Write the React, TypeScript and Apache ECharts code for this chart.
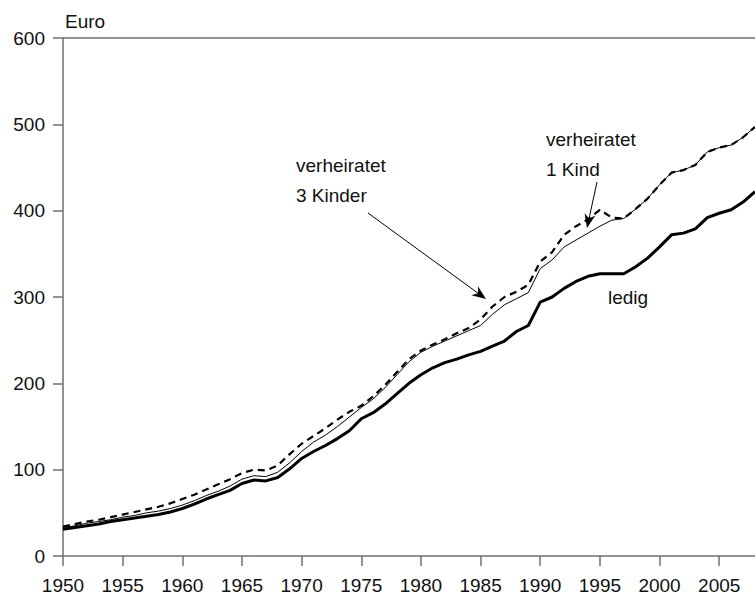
import React, { useEffect, useRef } from "react";
import * as echarts from "echarts";

const years: number[] = [];
for (let y = 1950; y <= 2008; y++) years.push(y);

const ledig = [
  31, 33, 35, 37, 40, 42, 44, 46, 48, 51,
  55, 60, 66, 71, 76, 84, 88, 87, 91, 101,
  113, 121, 128, 136, 145, 159, 166, 176, 188, 200,
  210, 218, 224, 228, 233, 237, 243, 249, 260, 267,
  294, 300, 310, 318, 324, 327, 327, 327, 335, 345,
  358, 372, 374, 379, 392, 397, 401, 410, 422,
];

const verheiratet1Kind = [
  33, 35, 38, 40, 42, 45, 47, 50, 52, 55,
  59, 64, 70, 75, 81, 89, 93, 92, 97, 108,
  121, 132, 140, 150, 161, 172, 182, 195, 210, 225,
  236, 243, 249, 255, 261, 267, 280, 291, 298, 305,
  333, 343, 358, 366, 374, 382, 389, 391, 402, 414,
  430, 444, 447, 453, 468, 473, 476, 485, 497,
];

const verheiratet3Kinder = [
  34, 37, 40, 42, 45, 48, 51, 54, 57, 61,
  66, 71, 77, 83, 89, 96, 100, 99, 105, 118,
  130, 139, 148, 158, 167, 174, 185, 198, 213, 228,
  238, 245, 251, 258, 264, 274, 289, 300, 306, 314,
  341, 352, 372, 382, 390, 401, 392, 391, 402, 414,
  430, 444, 447, 453, 468, 473, 476, 485, 497,
];

const yTicks = [0, 100, 200, 300, 400, 500, 600];

const FONT = "'Liberation Sans', Arial, sans-serif";
const AXIS_COLOR = "#6f6f6f";

function arrow(sx: number, sy: number, tx: number, ty: number) {
  const dx = tx - sx;
  const dy = ty - sy;
  const len = Math.sqrt(dx * dx + dy * dy);
  const ux = dx / len;
  const uy = dy / len;
  const nx = -uy;
  const ny = ux;
  const L = 14;
  const W = 5.5;
  return [
    {
      type: "line",
      shape: { x1: sx, y1: sy, x2: tx - ux * 8, y2: ty - uy * 8 },
      style: { stroke: "#000", lineWidth: 1 },
      silent: true,
    },
    {
      type: "polygon",
      shape: {
        points: [
          [tx, ty],
          [tx - L * ux + W * nx, ty - L * uy + W * ny],
          [tx - 0.7 * L * ux, ty - 0.7 * L * uy],
          [tx - L * ux - W * nx, ty - L * uy - W * ny],
        ],
      },
      style: { fill: "#000" },
      silent: true,
    },
  ];
}

function toPairs(vals: number[]) {
  return years.map((y, i) => [y, vals[i]]);
}

export default function App() {
  const ref = useRef<HTMLDivElement>(null);
  useEffect(() => {
    if (!ref.current) return;
    const chart = echarts.init(ref.current, undefined, { renderer: "svg" });
    const textStyle = { fontFamily: FONT, fontSize: 19, fill: "#111" };
    chart.setOption({
      animation: false,
      backgroundColor: "#fff",
      grid: { left: 63, right: 0, top: 38, bottom: 42, containLabel: false },
      xAxis: [
        {
          type: "value",
          min: 1950,
          max: 2008,
          interval: 5,
          axisLine: { show: true, lineStyle: { color: AXIS_COLOR, width: 1.5 } },
          axisTick: { show: true, length: 10, lineStyle: { color: AXIS_COLOR, width: 1.5 } },
          axisLabel: {
            margin: 20,
            fontFamily: FONT,
            fontSize: 19,
            color: "#111",
            showMaxLabel: false,
            formatter: (v: number) => (v % 5 === 0 ? String(v) : ""),
          },
          splitLine: { show: false },
        },
        {
          type: "value",
          position: "top",
          min: 1950,
          max: 2008,
          axisLine: { show: true, lineStyle: { color: AXIS_COLOR, width: 1.5 } },
          axisTick: { show: false },
          axisLabel: { show: false },
          splitLine: { show: false },
        },
      ],
      yAxis: {
        type: "value",
        min: yTicks[0],
        max: yTicks[yTicks.length - 1],
        interval: 100,
        axisLine: { show: true, lineStyle: { color: AXIS_COLOR, width: 1.5 } },
        axisTick: { show: true, length: 10, lineStyle: { color: AXIS_COLOR, width: 1.5 } },
        axisLabel: {
          margin: 18,
          fontFamily: FONT,
          fontSize: 19,
          color: "#111",
        },
        splitLine: { show: false },
      },
      series: [
        {
          name: "ledig",
          type: "line",
          data: toPairs(ledig),
          showSymbol: false,
          symbol: "none",
          lineStyle: { color: "#000", width: 3 },
          z: 3,
        },
        {
          name: "verheiratet 1 Kind",
          type: "line",
          data: toPairs(verheiratet1Kind),
          showSymbol: false,
          symbol: "none",
          lineStyle: { color: "#000", width: 1 },
          z: 4,
        },
        {
          name: "verheiratet 3 Kinder",
          type: "line",
          data: toPairs(verheiratet3Kinder),
          showSymbol: false,
          symbol: "none",
          lineStyle: { color: "#000", width: 2.2, type: [7, 5] },
          z: 5,
        },
      ],
      graphic: [
        {
          type: "text",
          left: 65,
          top: 12,
          style: { ...textStyle, text: "Euro" },
        },
        {
          type: "text",
          x: 296,
          y: 150,
          style: { ...textStyle, text: "verheiratet\n3 Kinder", lineHeight: 30, verticalAlign: "top" },
        },
        {
          type: "text",
          x: 546,
          y: 124,
          style: { ...textStyle, text: "verheiratet\n1 Kind", lineHeight: 30, verticalAlign: "top" },
        },
        {
          type: "text",
          x: 608,
          y: 297,
          style: { ...textStyle, text: "ledig", verticalAlign: "middle" },
        },
        ...arrow(368, 213, 486, 299),
        ...arrow(597, 182, 587, 228),
      ],
    });
    return () => chart.dispose();
  }, []);
  return <div ref={ref} style={{ width: 755, height: 598, position: "absolute", left: 0, top: 0 }} />;
}
